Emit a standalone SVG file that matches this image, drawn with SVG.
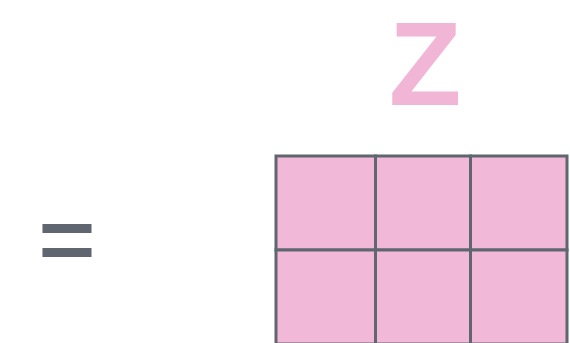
<svg xmlns="http://www.w3.org/2000/svg" width="570" height="343" viewBox="0 0 570 343">
<style>
.cell{fill:#f2b8d8;stroke:#5f6670;stroke-width:3}
.lbl{font-family:"Liberation Sans",Arial,sans-serif;font-weight:bold;fill:#f1b5d6}
.op{font-family:Inter,"Liberation Sans",Arial,sans-serif;fill:#5f6670}
</style>
<rect width="570" height="343" fill="#ffffff"/>
<g id="label-z"><text class="lbl" x="425" y="105" font-size="119" text-anchor="middle">Z</text></g>
<g id="equals"><text class="op" x="67" y="272" font-size="111" text-anchor="middle">=</text></g>
<g id="matrix">
<rect class="cell" x="276" y="156" width="99.5" height="94"/>
<rect class="cell" x="375.5" y="156" width="95" height="94"/>
<rect class="cell" x="470.5" y="156" width="96.5" height="94"/>
<rect class="cell" x="276" y="250" width="99.5" height="94"/>
<rect class="cell" x="375.5" y="250" width="95" height="94"/>
<rect class="cell" x="470.5" y="250" width="96.5" height="94"/>
</g>
</svg>
